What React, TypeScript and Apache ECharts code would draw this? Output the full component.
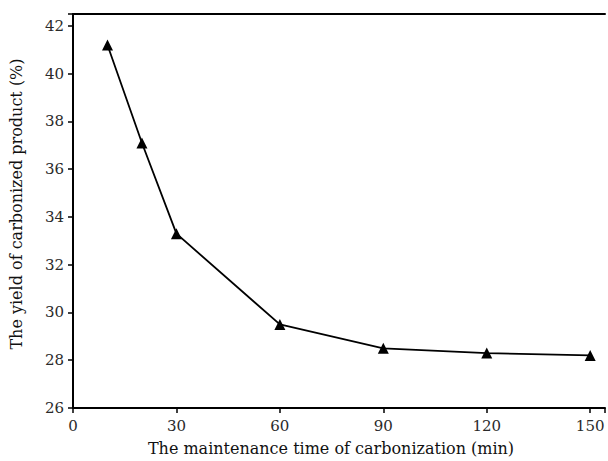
import React, { useEffect, useRef } from "react";
import * as echarts from "echarts";

const times = [10, 20, 30, 60, 90, 120, 150];
const yields = [41.2, 37.1, 33.3, 29.5, 28.5, 28.3, 28.2];
const xTicks = [0, 30, 60, 90, 120, 150];

const FONT = "DejaVu Serif";

export default function App() {
  const ref = useRef<HTMLDivElement>(null);
  useEffect(() => {
    if (!ref.current) return;
    const chart = echarts.init(ref.current, undefined, { renderer: "svg" });
    chart.setOption({
      animation: false,
      backgroundColor: "#fff",
      textStyle: { fontFamily: FONT },
      grid: { left: 72, top: 14, right: 0, bottom: 53, containLabel: false },
      xAxis: [
        {
          type: "value",
          min: 0,
          max: 154.3,
          interval: 30,
          name: "The maintenance time of carbonization (min)",
          nameLocation: "middle",
          nameGap: 32,
          nameTextStyle: { fontFamily: FONT, fontSize: 16, color: "#111", padding: [0, 16, 0, 0] },
          axisLine: { lineStyle: { color: "#000", width: 2 } },
          axisTick: { inside: false, length: 5, lineStyle: { color: "#000", width: 1.5 } },
          axisLabel: {
            fontFamily: FONT,
            fontSize: 15,
            color: "#2a2a2a",
            margin: 10,
            formatter: (v: number) => (xTicks.includes(v) ? String(v) : ""),
          },
          splitLine: { show: false },
        },
        {
          type: "value",
          position: "top",
          min: 0,
          max: 154.3,
          axisLine: { onZero: false, lineStyle: { color: "#000", width: 2 } },
          axisTick: { show: false },
          axisLabel: { show: false },
          splitLine: { show: false },
        },
      ],
      yAxis: {
        type: "value",
        min: 26,
        max: 42.5,
        interval: 2,
        name: "The yield of carbonized product (%)",
        nameLocation: "middle",
        nameGap: 49,
        nameTextStyle: { fontFamily: FONT, fontSize: 16, color: "#111", padding: [0, 0, 0, 14] },
        axisLine: { show: true, lineStyle: { color: "#000", width: 2 } },
        axisTick: { inside: false, length: 5, lineStyle: { color: "#000", width: 1.5 } },
        axisLabel: {
          fontFamily: FONT,
          fontSize: 15,
          color: "#2a2a2a",
          margin: 9,
          formatter: (v: number) => (v % 2 === 0 ? String(v) : ""),
        },
        splitLine: { show: false },
      },
      series: [
        {
          type: "line",
          xAxisIndex: 0,
          data: times.map((t, i) => [t, yields[i]]),
          symbol: "triangle",
          symbolSize: 11,
          lineStyle: { color: "#000", width: 1.8 },
          itemStyle: { color: "#000" },
        },
      ],
    });
    return () => chart.dispose();
  }, []);
  return (
    <div
      ref={ref}
      style={{ position: "fixed", left: 0, top: 0, width: 608, height: 461 }}
    />
  );
}
